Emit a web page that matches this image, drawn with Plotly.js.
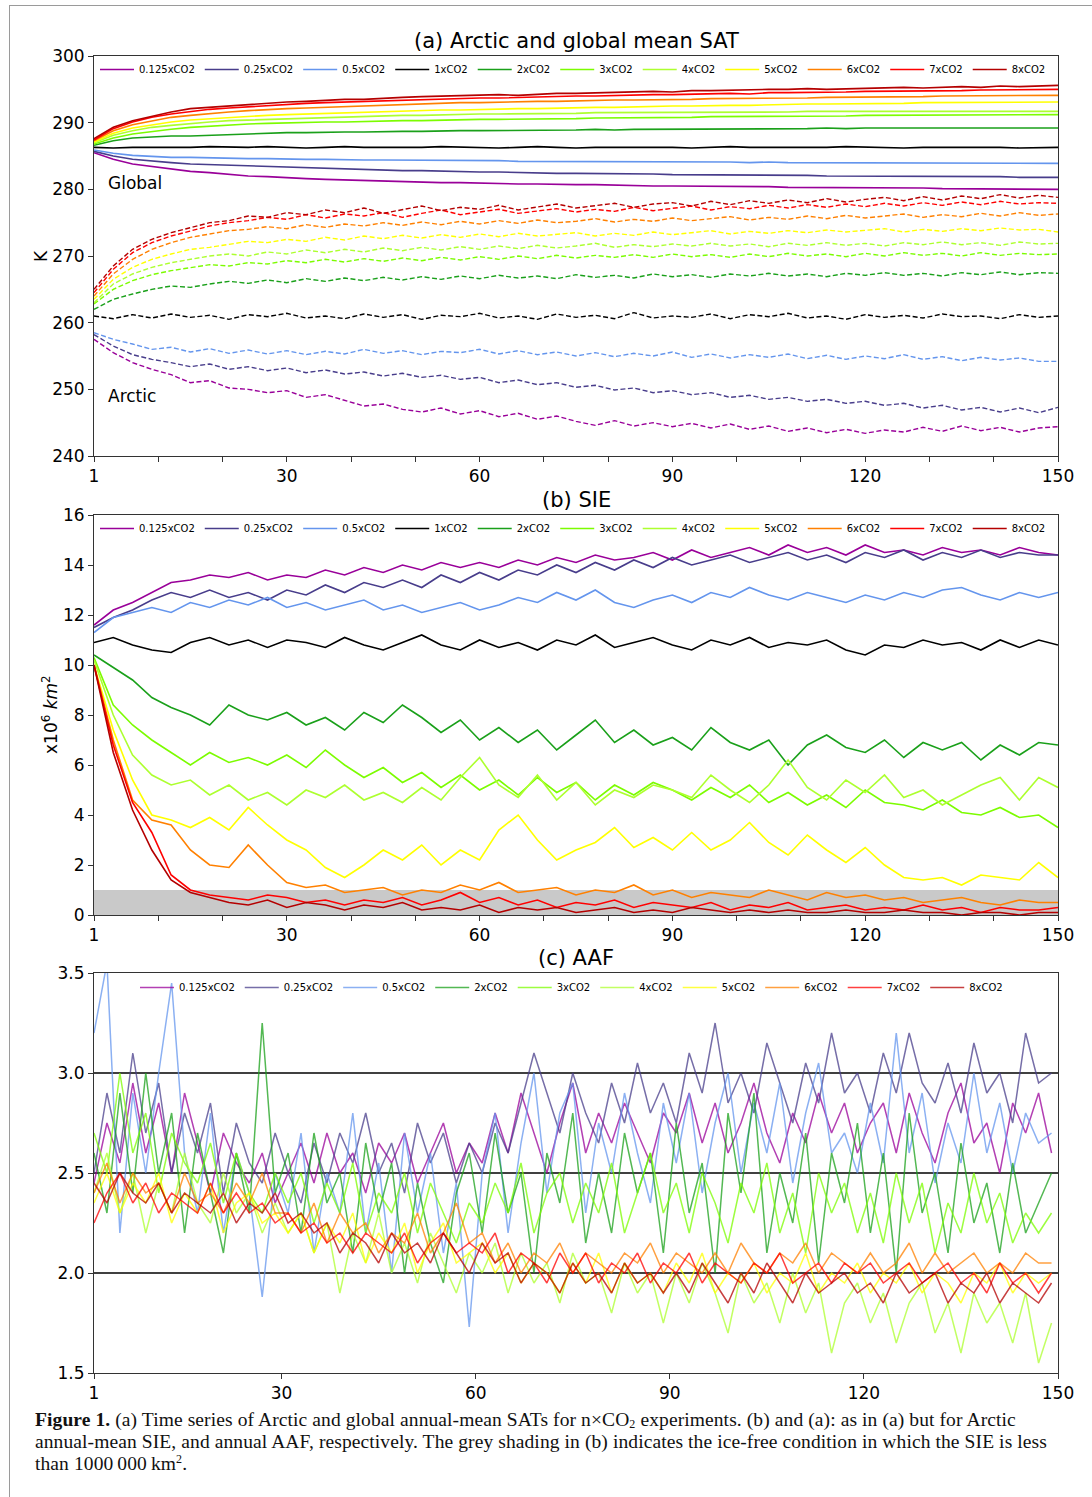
<!DOCTYPE html>
<html><head><meta charset="utf-8">
<script src="https://cdn.plot.ly/plotly-3.0.1.min.js"></script>
<style>
html,body{margin:0;padding:0;background:#fff;}
#wrap{position:relative;width:1092px;height:1497px;overflow:hidden;}
#frame{position:absolute;left:9px;top:5px;width:1100px;height:1500px;border-left:1px solid #9a9a9a;border-top:1px solid #9a9a9a;}
#chart{position:absolute;left:0;top:0;width:1092px;height:1497px;}
.cap{position:absolute;left:35px;width:1050px;font-family:"Liberation Serif","DejaVu Serif",serif;font-size:19.5px;line-height:22px;color:#111;white-space:nowrap;letter-spacing:0.1px;}
.cap sub,.cap sup{font-size:12px;line-height:0;}
.cap sub{vertical-align:-2px;}
</style></head>
<body><div id="wrap"><div id="frame"></div><div id="chart"></div>
<div class="cap" style="top:1409px"><b>Figure 1.</b> (a) Time series of Arctic and global annual-mean SATs for n&times;CO<sub>2</sub> experiments. (b) and (a): as in (a) but for Arctic</div>
<div class="cap" style="top:1431px">annual-mean SIE, and annual AAF, respectively. The grey shading in (b) indicates the ice-free condition in which the SIE is less</div>
<div class="cap" style="top:1453px">than 1000&#8201;000&#8201;km<sup>2</sup>.</div>
</div>
<script>
// ---------- data ----------
const expNames = ["0.125xCO2","0.25xCO2","0.5xCO2","1xCO2","2xCO2","3xCO2","4xCO2","5xCO2","6xCO2","7xCO2","8xCO2"];
const expColors = ["#990099","#483D8B","#6495ED","#000000","#1aa01a","#7CFC00","#ADFF2F","#FFFF00","#FF8000","#FF0000","#B40000"];
const years = [0,3,6,9,12,15,18,21,24,27,30,33,36,39,42,45,48,51,54,57,60,63,66,69,72,75,78,81,84,87,90,93,96,99,102,105,108,111,114,117,120,123,126,129,132,135,138,141,144,147,150];
const xTickVals = [0,30,60,90,120,150];
const xTickText = ["1","30","60","90","120","150"];

// (a) global-mean SAT (K)
const g0125 = [285.5,284.5,283.8,283.4,283.0,282.7,282.5,282.2,282.0,281.9,281.7,281.6,281.5,281.4,281.3,281.2,281.2,281.1,281.0,281.0,280.9,280.9,280.8,280.8,280.7,280.7,280.7,280.6,280.6,280.5,280.5,280.5,280.4,280.4,280.4,280.4,280.3,280.3,280.3,280.3,280.2,280.2,280.2,280.2,280.1,280.1,280.1,280.1,280.1,280.0,280.0];
const g025 = [285.7,285.0,284.5,284.2,284.0,283.8,283.7,283.6,283.5,283.4,283.3,283.2,283.1,283.0,283.0,282.9,282.8,282.8,282.7,282.7,282.6,282.6,282.5,282.5,282.4,282.4,282.4,282.3,282.3,282.3,282.2,282.2,282.2,282.2,282.1,282.1,282.1,282.1,282.0,282.0,282.0,282.0,282.0,281.9,281.9,281.9,281.9,281.9,281.8,281.8,281.8];
const g05 = [285.9,285.4,285.1,284.9,284.8,284.8,284.7,284.7,284.6,284.6,284.5,284.5,284.5,284.4,284.4,284.4,284.4,284.3,284.3,284.3,284.3,284.3,284.2,284.2,284.2,284.2,284.2,284.1,284.2,284.1,284.1,284.1,284.1,284.1,284.0,284.1,284.0,284.0,284.0,284.0,284.0,284.0,283.9,284.0,283.9,284.0,283.9,283.9,283.9,283.9,283.9];
const g1 = [286.3,286.2,286.3,286.3,286.2,286.3,286.4,286.3,286.3,286.4,286.3,286.2,286.3,286.4,286.3,286.3,286.2,286.3,286.4,286.3,286.3,286.2,286.3,286.4,286.3,286.2,286.3,286.3,286.4,286.3,286.3,286.2,286.3,286.4,286.3,286.3,286.3,286.2,286.3,286.4,286.3,286.3,286.2,286.3,286.3,286.4,286.3,286.3,286.2,286.3,286.3];
const g2 = [286.6,287.3,287.7,287.9,288.0,288.0,288.1,288.3,288.4,288.4,288.5,288.5,288.6,288.6,288.6,288.7,288.7,288.7,288.8,288.8,288.8,288.8,288.9,288.9,288.9,288.9,289.0,288.9,289.0,289.0,289.0,289.0,289.1,289.1,289.0,289.1,289.1,289.1,289.2,289.1,289.2,289.2,289.2,289.2,289.2,289.3,289.2,289.3,289.2,289.3,289.2];
const g3 = [286.8,287.7,288.3,288.7,289.0,289.3,289.5,289.7,289.8,289.9,290.0,290.0,290.1,290.1,290.2,290.2,290.3,290.3,290.4,290.4,290.5,290.5,290.5,290.6,290.6,290.6,290.7,290.7,290.7,290.8,290.8,290.8,290.9,290.9,290.9,290.9,291.0,291.0,291.0,291.0,291.1,291.1,291.1,291.1,291.1,291.2,291.2,291.2,291.2,291.2,291.2];
const g4 = [287.0,288.1,288.8,289.3,289.6,289.9,290.1,290.3,290.4,290.5,290.6,290.7,290.8,290.9,291.0,291.0,291.1,291.1,291.2,291.2,291.3,291.3,291.3,291.4,291.4,291.4,291.5,291.5,291.5,291.5,291.5,291.6,291.6,291.6,291.6,291.6,291.6,291.7,291.7,291.7,291.7,291.7,291.7,291.7,291.8,291.7,291.8,291.8,291.7,291.8,291.7];
const g5 = [287.1,288.4,289.2,289.7,290.1,290.4,290.6,290.8,291.0,291.1,291.2,291.3,291.4,291.5,291.6,291.7,291.8,291.8,291.9,291.9,292.0,292.0,292.1,292.1,292.2,292.2,292.3,292.3,292.4,292.4,292.5,292.5,292.6,292.6,292.6,292.7,292.7,292.8,292.8,292.8,292.9,292.9,292.9,293.0,293.0,293.0,293.1,293.0,293.1,293.0,293.1];
const g6 = [287.3,288.8,289.7,290.3,290.8,291.1,291.4,291.6,291.8,292.0,292.1,292.2,292.3,292.5,292.6,292.7,292.8,292.9,292.9,293.0,293.0,293.1,293.1,293.2,293.2,293.3,293.3,293.4,293.4,293.4,293.5,293.5,293.6,293.6,293.6,293.7,293.7,293.7,293.8,293.8,293.8,293.9,293.9,293.9,294.0,294.0,294.0,294.1,294.0,294.1,294.1];
const g7 = [287.4,289.1,290.1,290.8,291.3,291.7,292.0,292.2,292.4,292.6,292.8,292.9,293.0,293.1,293.2,293.3,293.4,293.5,293.5,293.6,293.7,293.7,293.8,293.9,293.9,294.0,294.0,294.1,294.1,294.2,294.2,294.3,294.3,294.4,294.3,294.5,294.5,294.5,294.6,294.6,294.7,294.7,294.7,294.8,294.8,294.8,294.9,294.9,295.0,294.9,295.0];
const g8 = [287.6,289.3,290.3,291.0,291.6,292.1,292.3,292.6,292.8,293.0,293.1,293.2,293.4,293.5,293.5,293.7,293.8,293.9,294.0,294.0,294.1,294.2,294.1,294.3,294.4,294.4,294.5,294.5,294.6,294.7,294.6,294.8,294.8,294.9,294.9,295.0,295.0,295.1,295.0,295.1,295.2,295.2,295.3,295.2,295.3,295.4,295.3,295.5,295.4,295.5,295.6];

// (a) Arctic-mean SAT (K)
const a0125 = [257.5,255.5,254.0,253.0,252.2,251.0,251.3,250.2,250.0,249.5,249.8,248.8,249.2,248.3,247.5,247.8,247.0,246.6,247.2,246.3,246.8,245.9,246.4,245.5,246.0,245.2,244.6,245.3,244.5,245.0,244.4,244.9,244.2,244.8,244.0,244.5,243.7,244.2,243.5,244.0,243.4,243.9,243.6,244.3,243.7,244.5,243.8,244.3,243.6,244.2,244.4];
const a025 = [258.2,256.5,255.2,254.5,254.0,253.4,253.8,253.0,253.4,252.8,253.2,252.5,252.9,252.3,252.6,252.0,252.4,251.8,252.1,251.5,251.8,251.0,251.4,250.7,251.0,250.3,250.6,249.9,250.2,249.5,249.8,249.2,249.5,248.8,249.1,248.5,248.8,248.2,248.5,247.9,248.2,247.6,247.9,247.2,247.6,246.9,247.3,246.6,247.2,246.5,247.3];
const a05 = [258.5,257.5,256.8,256.0,256.3,255.6,256.1,255.4,255.9,255.3,255.8,255.2,255.7,255.3,256.0,255.4,255.8,255.2,255.7,255.5,256.0,255.3,255.8,255.2,255.6,255.0,255.5,254.9,255.4,255.0,255.6,254.8,255.3,254.7,255.2,254.8,255.3,254.6,255.1,254.5,255.0,254.6,255.2,254.5,254.9,254.3,254.8,254.4,254.7,254.2,254.2];
const a1 = [261.0,260.6,261.2,260.7,261.3,260.8,261.1,260.5,261.2,260.9,261.4,260.7,261.0,260.6,261.3,260.8,261.2,260.5,261.1,260.9,261.4,260.7,261.0,260.5,261.3,260.8,261.1,260.6,261.5,260.7,261.0,260.8,261.3,260.6,261.2,260.9,261.4,260.7,261.0,260.5,261.2,260.8,261.1,260.7,261.3,260.9,261.0,260.6,261.2,260.8,261.0];
const a2 = [262.0,263.5,264.3,265.0,265.5,265.3,265.8,266.2,265.9,266.4,266.0,266.6,266.2,266.7,266.3,266.8,266.4,266.9,266.5,267.0,266.6,267.1,266.7,267.0,266.6,267.2,266.8,267.1,266.7,267.3,266.9,267.2,266.8,267.3,267.0,267.4,267.0,267.3,266.9,267.4,267.1,267.5,267.1,267.4,267.0,267.5,267.2,267.6,267.2,267.5,267.4];
const a3 = [262.8,265.0,266.3,267.2,267.8,268.3,268.7,268.5,269.0,268.8,269.3,269.0,269.5,269.1,269.6,269.2,269.7,269.3,269.8,269.4,269.9,269.5,270.0,269.6,270.1,269.7,270.1,269.8,270.2,269.8,270.3,269.9,270.2,269.8,270.3,269.9,270.4,270.0,270.3,269.9,270.4,270.0,270.5,270.1,270.4,270.0,270.5,270.1,270.4,270.2,270.3];
const a4 = [263.0,265.8,267.3,268.3,269.0,269.5,270.0,270.3,270.0,270.6,270.3,270.9,270.5,271.0,270.6,271.2,270.8,271.3,270.9,271.4,271.0,271.5,271.1,271.6,271.2,271.5,271.9,271.3,271.7,271.4,271.8,271.5,271.9,271.5,271.8,271.4,271.9,271.6,272.0,271.6,271.9,271.5,272.0,271.7,272.1,271.7,272.0,271.6,272.1,271.8,271.9];
const a5 = [263.5,266.5,268.3,269.5,270.3,271.0,271.3,271.8,272.2,272.0,272.5,272.2,272.8,272.4,273.0,272.6,273.1,272.7,273.2,272.8,273.3,272.9,273.4,273.0,273.2,273.5,273.0,273.4,273.1,273.6,273.2,273.5,273.8,273.3,273.7,273.4,273.8,273.5,273.9,273.6,273.8,274.1,273.6,274.0,273.7,274.1,273.8,274.2,273.9,274.0,273.6];
const a6 = [264.0,267.3,269.5,271.0,272.0,272.8,273.3,273.8,274.0,274.4,274.1,274.7,274.3,274.8,274.5,275.0,274.6,275.1,274.7,275.2,274.8,275.3,274.9,275.4,275.0,275.2,275.6,275.1,275.5,275.2,275.7,275.3,275.6,275.9,275.4,275.8,275.5,276.0,275.6,276.1,275.7,276.0,276.3,275.8,276.2,275.9,276.4,276.0,276.5,276.1,276.3];
const a7 = [264.5,268.0,270.5,272.0,273.0,273.8,274.5,275.0,275.3,275.8,275.5,276.2,275.7,276.3,276.0,276.5,275.8,276.4,276.9,276.2,276.6,277.0,276.4,276.8,277.1,276.6,277.0,276.7,277.3,276.8,277.2,277.5,276.9,277.4,277.1,277.6,277.2,277.7,277.3,277.8,277.4,277.9,277.5,278.0,277.6,278.1,277.7,278.2,277.8,278.0,277.9];
const a8 = [265.0,268.5,271.0,272.5,273.5,274.3,275.0,275.3,276.0,275.8,276.5,276.2,276.9,276.5,277.2,276.4,277.0,277.5,276.8,277.3,277.0,277.6,276.9,277.4,277.8,277.2,277.6,277.9,277.3,277.8,278.0,277.5,278.2,277.7,278.3,277.9,278.4,278.0,278.6,278.1,278.5,278.8,278.3,278.9,278.4,279.0,278.6,279.2,278.7,279.1,278.8];

// (b) Arctic sea-ice extent (x10^6 km^2)
const s0125 = [11.6,12.2,12.5,12.9,13.3,13.4,13.6,13.5,13.7,13.4,13.6,13.5,13.8,13.6,13.9,13.7,14.0,13.8,14.1,13.9,14.1,13.9,14.2,14.0,14.3,14.1,14.4,14.2,14.3,14.5,14.2,14.6,14.3,14.5,14.7,14.4,14.8,14.5,14.7,14.4,14.8,14.5,14.6,14.4,14.7,14.5,14.6,14.4,14.7,14.5,14.4];
const s025 = [11.5,11.9,12.2,12.6,12.9,12.7,13.0,12.7,12.9,12.6,13.0,12.8,13.2,12.9,13.3,13.1,13.4,13.1,13.6,13.3,13.7,13.4,13.8,13.6,14.0,13.7,14.1,13.8,14.2,13.9,14.3,14.0,14.2,14.4,14.1,14.3,14.5,14.2,14.4,14.1,14.5,14.3,14.6,14.2,14.5,14.3,14.6,14.3,14.5,14.4,14.4];
const s05 = [11.3,11.9,12.1,12.3,12.1,12.5,12.3,12.6,12.4,12.7,12.3,12.5,12.2,12.4,12.6,12.2,12.4,12.1,12.3,12.5,12.2,12.4,12.7,12.5,12.9,12.6,13.0,12.5,12.3,12.6,12.8,12.5,12.9,12.7,13.1,12.8,12.6,12.9,12.7,12.5,12.8,12.6,12.9,12.7,13.0,13.1,12.8,12.6,12.9,12.7,12.9];
const s1 = [10.9,11.1,10.8,10.6,10.5,10.9,11.1,10.8,11.0,10.7,11.0,10.9,10.7,11.1,10.8,10.6,10.9,11.2,10.8,10.6,11.0,10.7,10.9,10.6,11.0,10.8,11.2,10.7,10.9,11.1,10.8,10.6,11.0,10.8,11.1,10.7,10.9,10.8,11.0,10.6,10.4,10.8,10.7,11.0,10.8,10.9,10.6,11.0,10.7,11.0,10.8];
const s2 = [10.4,9.9,9.4,8.7,8.3,8.0,7.6,8.4,8.0,7.8,8.1,7.6,7.9,7.4,8.1,7.7,8.4,7.9,7.3,7.8,7.0,7.5,6.9,7.4,6.6,7.2,7.8,6.9,7.4,6.8,7.1,6.6,7.5,6.9,6.6,7.0,6.0,6.8,7.2,6.7,6.5,7.0,6.3,6.9,6.6,6.9,6.2,6.8,6.4,6.9,6.8];
const s3 = [10.3,8.4,7.6,7.0,6.5,6.0,6.5,6.1,6.3,6.0,6.4,5.9,6.6,6.0,5.5,5.9,5.3,5.7,5.1,5.6,5.0,5.4,4.8,5.5,4.9,5.3,4.6,5.2,4.8,5.3,5.0,4.6,5.1,4.7,5.2,4.5,4.9,4.4,4.8,4.3,5.0,4.5,4.4,4.2,4.6,4.1,4.0,4.3,3.9,4.0,3.5];
const s4 = [10.2,8.0,6.4,5.6,5.2,5.4,4.8,5.2,4.6,4.9,4.4,5.0,4.7,5.2,4.6,4.9,4.5,5.1,4.6,5.5,6.3,5.2,4.7,5.6,4.6,5.3,4.4,5.0,4.7,5.2,5.0,4.7,5.6,5.0,4.5,5.2,6.2,5.1,4.6,5.4,4.9,5.6,4.7,5.0,4.4,4.8,5.2,5.5,4.6,5.5,5.1];
const s5 = [10.0,7.4,5.4,4.0,3.8,3.5,3.9,3.4,4.3,3.6,3.0,2.6,1.9,1.5,2.0,2.6,2.2,2.8,2.0,2.6,2.2,3.4,4.0,3.0,2.2,2.6,2.9,3.5,2.7,3.1,2.6,3.3,2.6,3.0,3.7,2.9,2.4,3.2,2.6,2.1,2.7,2.0,1.5,1.4,1.5,1.2,1.6,1.5,1.4,2.1,1.5];
const s6 = [10.0,7.0,4.6,3.8,3.6,2.6,2.0,1.9,2.8,2.0,1.3,1.1,1.2,0.9,1.0,1.1,0.8,1.0,0.9,1.2,1.0,1.3,0.9,1.0,1.1,0.8,1.0,0.9,1.2,0.8,1.0,0.7,0.9,0.8,0.7,1.0,0.8,0.6,0.9,0.7,0.8,0.6,0.7,0.5,0.6,0.7,0.5,0.4,0.6,0.5,0.5];
const s7 = [10.0,6.8,4.5,3.3,1.6,1.0,0.8,0.7,0.6,0.8,0.7,0.5,0.6,0.4,0.6,0.5,0.7,0.4,0.6,0.9,0.5,0.7,0.4,0.6,0.3,0.5,0.4,0.6,0.3,0.5,0.4,0.3,0.5,0.2,0.4,0.3,0.5,0.2,0.3,0.4,0.2,0.3,0.2,0.4,0.2,0.3,0.1,0.3,0.2,0.2,0.3];
const s8 = [10.0,6.5,4.2,2.6,1.4,0.9,0.7,0.5,0.4,0.6,0.3,0.5,0.4,0.2,0.4,0.3,0.5,0.2,0.3,0.2,0.4,0.1,0.3,0.2,0.3,0.1,0.2,0.3,0.1,0.2,0.1,0.3,0.2,0.1,0.2,0.1,0.2,0.1,0.1,0.2,0.1,0.1,0.2,0.1,0.1,0.0,0.1,0.1,0.0,0.1,0.1];

// (c) Arctic amplification factor
const aafNames = ["0.125xCO2","0.25xCO2","0.5xCO2","2xCO2","3xCO2","4xCO2","5xCO2","6xCO2","7xCO2","8xCO2"];
const aafColors = ["#990099","#483D8B","#6495ED","#1aa01a","#7CFC00","#ADFF2F","#FFFF00","#FF8000","#FF0000","#B40000"];
const cYears = [1,3,5,7,9,11,13,15,17,19,21,23,25,27,29,31,33,35,37,39,41,43,45,47,49,51,53,55,57,59,61,63,65,67,69,71,73,75,77,79,81,83,85,87,89,91,93,95,97,99,101,103,105,107,109,111,113,115,117,119,121,123,125,127,129,131,133,135,137,139,141,143,145,147,149];
const cTickVals = [1,30,60,90,120,150];
const cTickText = ["1","30","60","90","120","150"];
const c0125 = [2.45,2.75,2.55,2.95,2.6,2.85,2.5,2.9,2.65,2.4,2.7,2.55,2.45,2.6,2.35, 2.5,2.65,2.45,2.7,2.5,2.6,2.4,2.65,2.55,2.7,2.45,2.6,2.75,2.5,2.65, 2.55,2.8,2.6,2.9,2.7,2.5,2.75,2.95,2.6,2.8,2.65,2.85,2.7,2.55,2.8, 2.7,2.9,2.65,2.85,2.6,2.75,2.95,2.7,2.55,2.8,2.65,2.9,2.7,2.85,2.6, 2.75,2.85,2.6,2.9,2.7,2.55,2.8,2.95,2.65,2.75,2.5,2.85,2.7,2.9,2.6];
const c025 = [2.5,2.9,2.6,3.1,2.7,2.95,2.5,2.8,2.6,2.85,2.4,2.75,2.55,2.45,2.7, 2.5,2.35,2.65,2.45,2.7,2.55,2.8,2.5,2.65,2.4,2.75,2.55,2.7,2.45,2.65, 2.5,2.75,2.6,2.85,3.1,2.9,2.7,3.0,2.8,2.65,2.95,2.75,3.05,2.8,2.95, 2.75,3.1,2.9,3.25,2.85,3.0,2.8,3.15,2.95,2.75,3.05,2.85,3.2,2.9,3.0, 2.8,3.1,2.9,3.2,2.95,2.85,3.05,2.8,3.15,2.9,3.0,2.75,3.2,2.95,3.0];
const c05 = [3.2,3.55,2.2,2.9,2.5,3.0,3.45,2.6,2.3,2.8,2.2,2.6,2.4,1.88,2.5, 2.3,2.7,2.1,2.5,2.3,2.8,2.2,2.55,2.0,2.7,2.3,2.6,2.1,2.45,1.73, 2.5,2.8,2.2,2.65,3.0,2.4,2.8,2.95,2.3,2.75,2.5,2.9,2.6,2.35,2.85, 2.55,2.9,2.4,2.75,3.0,2.5,2.85,2.6,2.95,2.45,2.8,3.05,2.6,2.7,2.5, 2.85,2.55,3.2,2.6,2.9,2.45,2.75,2.55,3.0,2.6,2.85,2.5,2.8,2.65,2.7];
const c2 = [2.6,2.3,2.9,2.4,3.0,2.5,2.8,2.2,2.7,2.4,2.1,2.6,2.3,3.25,2.4, 2.6,2.2,2.7,2.35,2.5,2.1,2.65,2.3,2.55,2.0,2.45,2.15,1.95,2.4,2.6, 2.2,2.7,2.3,2.5,2.0,2.6,2.35,2.8,2.15,2.5,2.2,2.7,2.4,2.6,2.1, 2.75,2.3,2.55,2.0,2.8,2.4,2.9,2.1,2.5,2.25,2.7,2.05,2.6,2.35,2.75, 2.2,2.6,2.0,2.8,2.3,2.5,2.1,2.65,2.25,2.45,2.1,2.55,2.2,2.35,2.5];
const c3 = [2.7,2.5,3.0,2.6,2.8,2.4,2.7,2.55,2.45,2.65,2.35,2.6,2.4,2.3,2.5, 2.35,2.5,2.25,2.45,2.3,2.55,2.2,2.4,2.3,2.5,2.2,2.45,2.3,2.15,2.35, 2.25,2.45,2.3,2.55,2.2,2.4,2.5,2.25,2.45,2.3,2.55,2.2,2.4,2.6,2.3, 2.45,2.2,2.5,2.35,2.15,2.45,2.3,2.55,2.2,2.4,2.1,2.5,2.3,2.45,2.2, 2.4,2.15,2.5,2.25,2.45,2.1,2.35,2.2,2.5,2.25,2.4,2.15,2.3,2.2,2.3];
const c4 = [2.4,2.6,2.3,2.5,2.2,2.45,2.3,2.6,2.35,2.25,2.5,2.3,2.4,2.2,2.35, 2.2,2.3,2.1,2.25,1.9,2.2,2.05,2.3,2.0,2.15,1.95,2.2,2.05,1.9,2.1, 2.0,2.15,1.9,2.1,1.95,2.05,1.85,2.1,1.95,2.0,1.8,2.05,1.9,2.0,1.75, 2.0,1.85,2.05,1.9,1.7,2.0,1.85,1.95,1.75,2.0,1.8,1.95,1.6,1.85,1.95, 1.75,1.9,1.65,1.85,1.95,1.7,1.85,1.6,1.9,1.75,1.85,1.65,1.9,1.55,1.75];
const c5 = [2.35,2.5,2.3,2.45,2.35,2.5,2.25,2.4,2.3,2.45,2.2,2.35,2.4,2.25,2.3, 2.2,2.3,2.1,2.25,2.15,2.3,2.05,2.2,2.1,2.25,2.0,2.15,2.25,2.05,2.1, 2.15,2.0,2.1,1.95,2.05,2.0,1.9,2.05,1.95,2.1,1.9,2.05,1.95,2.0,1.9, 2.05,1.95,2.1,1.9,2.0,1.95,2.05,1.9,2.0,1.95,2.1,1.9,2.0,1.95,2.05, 1.9,2.0,1.95,2.05,1.9,2.0,1.95,1.85,2.0,1.95,2.05,1.9,2.0,1.95,2.0];
const c6 = [2.4,2.55,2.35,2.5,2.4,2.45,2.3,2.5,2.35,2.4,2.3,2.45,2.35,2.5,2.3, 2.3,2.2,2.35,2.15,2.3,2.2,2.25,2.1,2.2,2.15,2.3,2.1,2.2,2.35,2.15, 2.2,2.05,2.15,2.0,2.1,2.05,2.15,2.0,2.1,2.05,2.0,2.1,2.05,2.15,2.0, 2.1,2.05,2.0,2.1,2.0,2.15,2.05,2.0,2.1,2.05,2.15,2.0,2.1,2.05,2.0, 2.1,2.0,2.05,2.15,2.0,2.1,2.0,2.05,2.1,2.0,2.05,2.0,2.1,2.05,2.05];
const c7 = [2.25,2.4,2.5,2.35,2.45,2.3,2.4,2.35,2.3,2.45,2.3,2.4,2.3,2.35,2.25, 2.3,2.2,2.25,2.15,2.2,2.1,2.2,2.15,2.1,2.2,2.05,2.15,2.2,2.1,2.15, 2.1,2.2,2.0,2.1,2.05,1.95,2.1,2.0,2.1,1.95,2.05,2.0,2.1,1.95,2.05, 2.0,2.1,1.95,2.05,2.0,1.95,2.05,2.0,2.1,1.95,2.0,2.05,1.95,2.05,2.0, 2.05,1.95,2.0,2.05,1.95,2.0,2.05,1.95,2.0,1.9,2.05,1.95,2.0,1.9,2.0];
const c8 = [2.45,2.35,2.5,2.4,2.35,2.45,2.3,2.4,2.35,2.3,2.4,2.25,2.35,2.3,2.4, 2.25,2.3,2.2,2.25,2.1,2.2,2.15,2.05,2.2,2.1,2.15,2.05,2.2,2.1,2.0, 2.15,2.05,2.1,1.95,2.05,2.0,1.9,2.05,1.95,2.0,1.9,2.05,1.95,2.0,1.9, 2.0,1.9,2.05,1.95,1.85,2.0,1.9,2.05,1.95,1.85,2.0,1.9,1.95,2.0,1.9, 1.95,1.85,2.0,1.9,1.95,2.0,1.85,1.95,1.9,2.0,1.85,1.95,1.9,1.85,1.95];
const aafRefLevels = [2.0, 2.5, 3.0];
const iceFreeLimit = 1.0;

const globalSeries = [g0125,g025,g05,g1,g2,g3,g4,g5,g6,g7,g8];
const arcticSeries = [a0125,a025,a05,a1,a2,a3,a4,a5,a6,a7,a8];
const sieSeries = [s0125,s025,s05,s1,s2,s3,s4,s5,s6,s7,s8];
const aafSeries = [c0125,c025,c05,c2,c3,c4,c5,c6,c7,c8];

// ---------- traces ----------
const traces = [];
expNames.forEach((n,i)=>{
  traces.push({x:years,y:globalSeries[i],type:'scatter',mode:'lines',name:n,legend:'legend',
    line:{color:expColors[i],width:1.6},xaxis:'x',yaxis:'y',hoverinfo:'skip'});
});
expNames.forEach((n,i)=>{
  traces.push({x:years,y:arcticSeries[i],type:'scatter',mode:'lines',name:n,showlegend:false,
    line:{color:expColors[i],width:1.4,dash:'5px,2.5px'},xaxis:'x',yaxis:'y',hoverinfo:'skip'});
});
expNames.forEach((n,i)=>{
  traces.push({x:years,y:sieSeries[i],type:'scatter',mode:'lines',name:n,legend:'legend2',
    line:{color:expColors[i],width:1.6},xaxis:'x2',yaxis:'y2',hoverinfo:'skip'});
});
aafNames.forEach((n,i)=>{
  traces.push({x:cYears,y:aafSeries[i],type:'scatter',mode:'lines',name:n,legend:'legend3',opacity:0.75,
    line:{color:aafColors[i],width:1.5},xaxis:'x3',yaxis:'y3',hoverinfo:'skip'});
});

// ---------- layout ----------
const W=1092,H=1497;
const px=v=>v/W, py=v=>1-v/H;
const xd=[px(94),px(1058)];
const tickFont={family:'DejaVu Sans',size:17,color:'#000'};
const axBase={showgrid:false,zeroline:false,showline:true,mirror:true,linecolor:'#333',linewidth:1,
  ticks:'outside',ticklen:5,tickcolor:'#333',tickfont:tickFont,fixedrange:true};
const minorX={tickmode:'linear',tick0:0,dtick:10,ticks:'outside',ticklen:5,tickcolor:'#333',showgrid:false};
const legBase={orientation:'h',xanchor:'left',yanchor:'top',bgcolor:'rgba(0,0,0,0)',borderwidth:0,
  font:{family:'DejaVu Sans',size:10,color:'#000'},itemwidth:34,traceorder:'normal'};

const shapes=[{type:'rect',xref:'x2',yref:'y2',x0:years[0],x1:years[years.length-1],y0:0,y1:iceFreeLimit,
  fillcolor:'#c9c9c9',line:{width:0},layer:'below'}];
aafRefLevels.forEach(v=>shapes.push({type:'line',xref:'x3',yref:'y3',x0:cTickVals[0],x1:cTickVals[cTickVals.length-1],y0:v,y1:v,
  line:{color:'#000',width:1.3},layer:'below'}));

const titleFont={family:'DejaVu Sans',size:21,color:'#000'};
const labFont={family:'DejaVu Sans',size:17,color:'#000'};
const annotations=[
  {text:'(a) Arctic and global mean SAT',xref:'paper',yref:'paper',x:px(576),y:py(41),showarrow:false,font:titleFont,xanchor:'center',yanchor:'middle'},
  {text:'(b) SIE',xref:'paper',yref:'paper',x:px(576),y:py(500),showarrow:false,font:titleFont,xanchor:'center',yanchor:'middle'},
  {text:'(c) AAF',xref:'paper',yref:'paper',x:px(576),y:py(958),showarrow:false,font:titleFont,xanchor:'center',yanchor:'middle'},
  {text:'Global',xref:'paper',yref:'paper',x:px(106),y:py(183),showarrow:false,font:labFont,xanchor:'left',yanchor:'middle'},
  {text:'Arctic',xref:'paper',yref:'paper',x:px(106),y:py(396),showarrow:false,font:labFont,xanchor:'left',yanchor:'middle'},
  {text:'K',xref:'paper',yref:'paper',x:px(41),y:py(256),showarrow:false,textangle:-90,font:labFont,xanchor:'center',yanchor:'middle'},
  {text:'x10<sup>6</sup> <i>km</i><sup>2</sup>',xref:'paper',yref:'paper',x:px(50),y:py(715),showarrow:false,textangle:-90,font:labFont,xanchor:'center',yanchor:'middle'}
];

const layout={
  width:W,height:H,margin:{l:0,r:0,t:0,b:0},paper_bgcolor:'rgba(0,0,0,0)',plot_bgcolor:'rgba(0,0,0,0)',
  showlegend:true,
  xaxis:Object.assign({},axBase,{domain:xd,anchor:'y',range:[0,150],tickmode:'array',tickvals:xTickVals,ticktext:xTickText,minor:minorX}),
  yaxis:Object.assign({},axBase,{domain:[py(456),py(56)],anchor:'x',range:[240,300],dtick:10,tick0:240}),
  xaxis2:Object.assign({},axBase,{domain:xd,anchor:'y2',range:[0,150],tickmode:'array',tickvals:xTickVals,ticktext:xTickText,minor:minorX}),
  yaxis2:Object.assign({},axBase,{domain:[py(915),py(515)],anchor:'x2',range:[0,16],dtick:2,tick0:0}),
  xaxis3:Object.assign({},axBase,{domain:xd,anchor:'y3',range:[1,150],tickmode:'array',tickvals:cTickVals,ticktext:cTickText}),
  yaxis3:Object.assign({},axBase,{domain:[py(1373),py(973)],anchor:'x3',range:[1.5,3.5],dtick:0.5,tick0:1.5,tickformat:'.1f'}),
  legend:Object.assign({},legBase,{x:px(95),y:py(55)}),
  legend2:Object.assign({},legBase,{x:px(95),y:py(514)}),
  legend3:Object.assign({},legBase,{x:px(135),y:py(973)}),
  shapes:shapes,annotations:annotations
};
Plotly.newPlot('chart',traces,layout,{staticPlot:true,displayModeBar:false});
</script></body></html>
